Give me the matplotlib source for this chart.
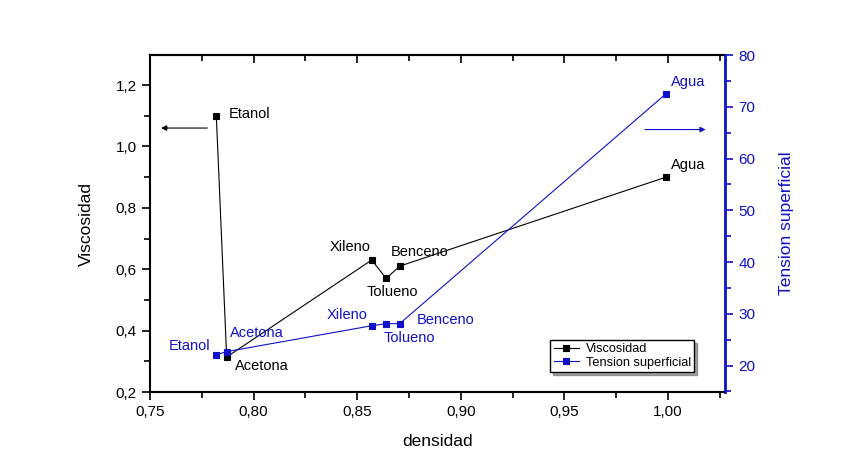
import numpy as np
import matplotlib
matplotlib.use('Agg')
import matplotlib.pyplot as plt
from matplotlib.ticker import MultipleLocator, FuncFormatter

plt.rcParams['font.family'] = ['Liberation Sans', 'DejaVu Sans']

# datos
liquidos = ['Etanol', 'Acetona', 'Xileno', 'Tolueno', 'Benceno', 'Agua']
densidad = [0.782, 0.787, 0.857, 0.864, 0.8705, 0.999]
viscosidad = [1.10, 0.314, 0.63, 0.57, 0.61, 0.90]
tension = [22.1, 22.7, 27.7, 28.1, 28.1, 72.5]

# desplazamiento de las etiquetas (pixeles) y alineacion
off_visc = [(12, 2, 'left'), (8, -9, 'left'), (-1, 13, 'right'),
            (-20, -14, 'left'), (-9, 14, 'left'), (5, 12, 'left')]
off_tens = [(-6, 9, 'right'), (3, 19, 'left'), (-4, 11, 'right'),
            (-3, -14, 'left'), (17, 4, 'left'), (5, 12, 'left')]

azul = '#1010c8'

def coma(fmt):
    return FuncFormatter(lambda v, p: (fmt % v).replace('.', ','))

fig = plt.figure(figsize=(8.42, 4.69), dpi=100)
ax = fig.add_axes([150/842, 1-392/469, 575/842, 337/469])
ax2 = ax.twinx()

l1, = ax.plot(densidad, viscosidad, color='black', lw=0.8, marker='s', ms=5,
              mfc='black', mec='black', mew=0.8, label='Viscosidad')
l2, = ax2.plot(densidad, tension, color=azul, lw=0.8, marker='s', ms=5,
               mfc=azul, mec=azul, mew=0.8, label='Tension superficial')

for i, nom in enumerate(liquidos):
    dx, dy, ha = off_visc[i]
    ax.annotate(nom, (densidad[i], viscosidad[i]), xytext=(dx, dy),
                textcoords='offset pixels', ha=ha, va='center', fontsize=10.5, color='black')
    dx, dy, ha = off_tens[i]
    ax2.annotate(nom, (densidad[i], tension[i]), xytext=(dx, dy),
                 textcoords='offset pixels', ha=ha, va='center', fontsize=10.5, color=azul)

ax.set_xlim(0.75, 1.0275)
ax.set_ylim(0.2, 1.298)
ax2.set_ylim(14.9, 80.0)

ax.xaxis.set_major_locator(MultipleLocator(0.05))
ax.xaxis.set_minor_locator(MultipleLocator(0.025))
ax.yaxis.set_major_locator(MultipleLocator(0.2))
ax.yaxis.set_minor_locator(MultipleLocator(0.1))
ax2.yaxis.set_major_locator(MultipleLocator(10))
ax2.yaxis.set_minor_locator(MultipleLocator(5))
ax.xaxis.set_major_formatter(coma('%.2f'))
ax.yaxis.set_major_formatter(coma('%.1f'))

ax.tick_params(which='both', direction='out', labelsize=11, width=1.2)
ax.tick_params(which='major', length=6)
ax.tick_params(which='minor', length=4)
ax2.tick_params(which='both', direction='out', colors=azul, labelsize=11, width=1.2)
ax2.tick_params(which='major', length=6)
ax2.tick_params(which='minor', length=4)

# eje superior con marcas hacia dentro
top = ax.secondary_xaxis('top')
top.xaxis.set_major_locator(MultipleLocator(0.05))
top.xaxis.set_minor_locator(MultipleLocator(0.025))
top.tick_params(which='both', direction='in', labeltop=False, width=1.2)
top.tick_params(which='major', length=6)
top.tick_params(which='minor', length=4)
top.spines['top'].set_linewidth(1.5)

for s in ['left', 'bottom', 'top']:
    ax.spines[s].set_linewidth(1.5)
ax2.spines['right'].set_color(azul)
ax2.spines['right'].set_linewidth(2)
ax2.spines['left'].set_visible(False)
ax2.spines['top'].set_visible(False)
ax2.spines['bottom'].set_visible(False)

ax.set_xlabel('densidad', fontsize=12.5, labelpad=11)
ax.set_ylabel('Viscosidad', fontsize=12.5, labelpad=16)
ax2.set_ylabel('Tension superficial', fontsize=12.5, color=azul, labelpad=17)

# flechas que indican el eje de cada serie
ax.annotate('', xy=(0.754, 1.06), xytext=(0.779, 1.06),
            arrowprops=dict(arrowstyle='-|>', color='black', lw=0.8, mutation_scale=8))
ax2.annotate('', xy=(1.0195, 65.6), xytext=(0.9875, 65.6),
             arrowprops=dict(arrowstyle='-|>', color=azul, lw=0.8, mutation_scale=8))

leg = ax2.legend([l1, l2], ['Viscosidad', 'Tension superficial'], loc='lower right',
                 bbox_to_anchor=(0.957, 0.04), fontsize=9.2, frameon=True, shadow=True,
                 fancybox=False, handlelength=2, borderpad=0.25, labelspacing=0.15,
                 handletextpad=0.5)
leg.get_frame().set_edgecolor('black')
leg.get_frame().set_linewidth(1)

fig.savefig('out.png', dpi=100)
